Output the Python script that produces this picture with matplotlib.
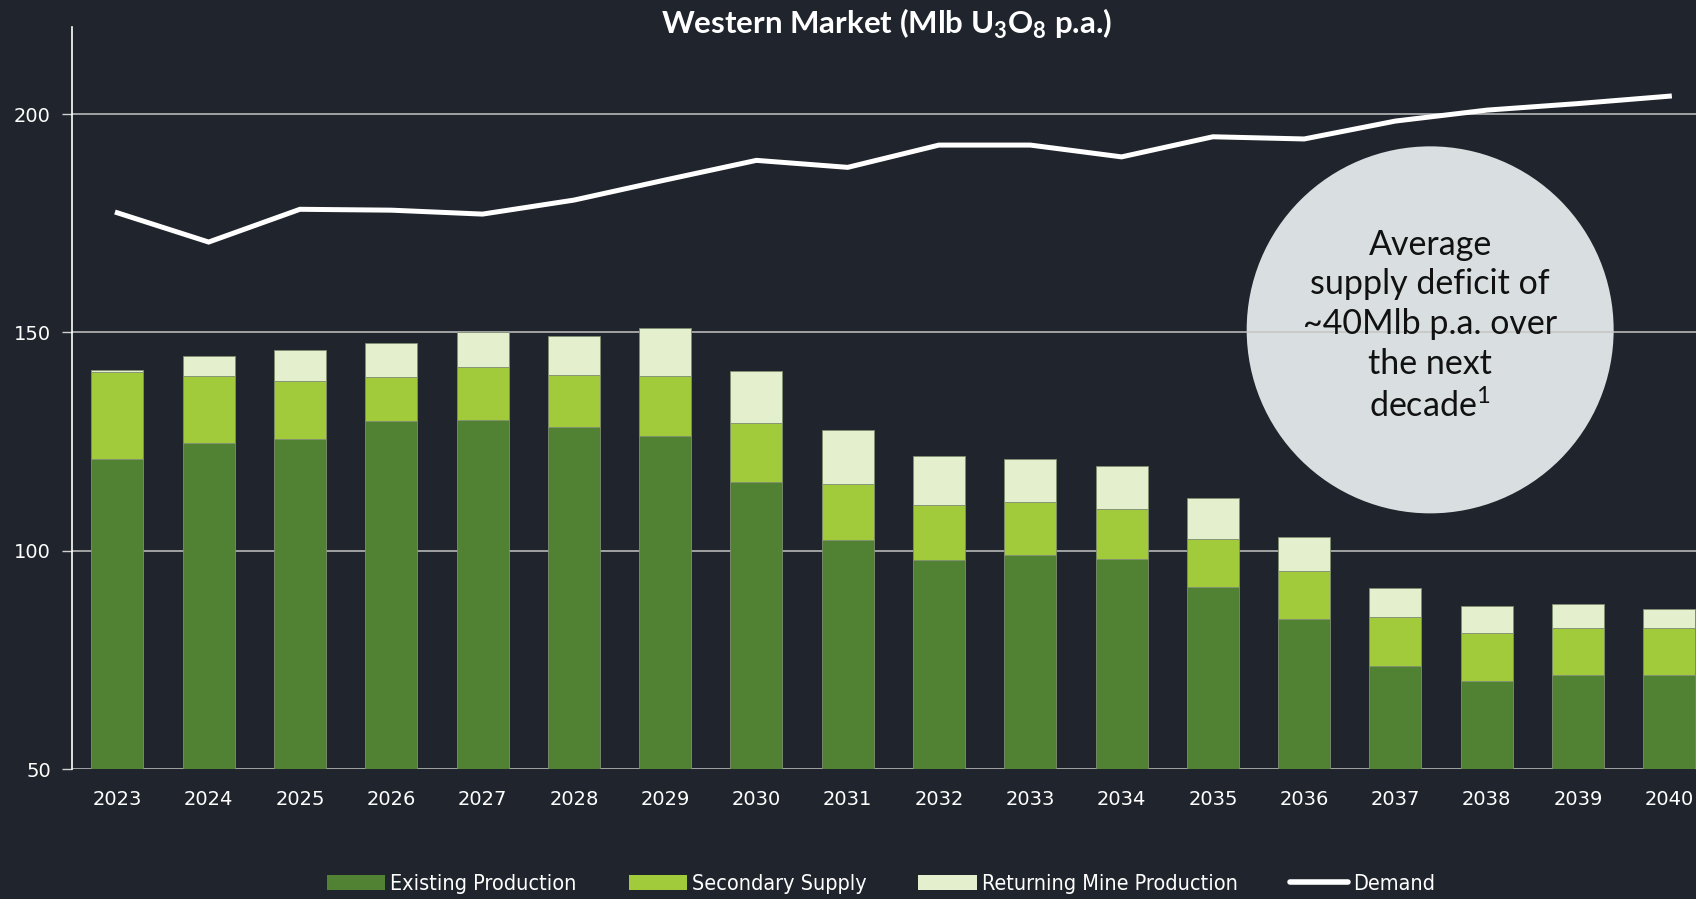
import matplotlib
matplotlib.use('Agg')
import matplotlib.pyplot as plt
from matplotlib.patches import Ellipse, Patch
from matplotlib.lines import Line2D

plt.rcParams['mathtext.fontset'] = 'custom'
plt.rcParams['mathtext.bf'] = 'Lato:bold'
plt.rcParams['mathtext.rm'] = 'Lato'

# ===== Western market supply / demand (Mlb U3O8 p.a.) =====
years = ['2023', '2024', '2025', '2026', '2027', '2028', '2029', '2030', '2031',
         '2032', '2033', '2034', '2035', '2036', '2037', '2038', '2039', '2040']
existing = [121.0, 124.6, 125.6, 129.8, 129.9, 128.4, 126.3, 115.7, 102.4,
            97.9, 99.1, 98.2, 91.7, 84.4, 73.7, 70.2, 71.5, 71.5]
secondary = [20.0, 15.5, 13.4, 10.0, 12.2, 11.8, 13.8, 13.5, 12.9,
             12.5, 12.0, 11.5, 11.0, 10.9, 11.1, 10.9, 10.9, 10.9]
returning = [0.3, 4.6, 7.0, 7.8, 8.1, 9.0, 11.0, 12.0, 12.3,
             11.4, 10.0, 9.8, 9.5, 7.8, 6.7, 6.2, 5.5, 4.3]
demand = [177.4, 170.7, 178.2, 178.0, 177.1, 180.3, 184.9, 189.4, 187.8,
          192.9, 192.9, 190.2, 194.8, 194.3, 198.4, 200.9, 202.4, 204.1]

bg = '#20242c'
c_exist = '#518133'
c_sec = '#a2cb3c'
c_ret = '#e4efcd'
edge = '#7f8f70'

fig = plt.figure(figsize=(16.96, 8.99), dpi=100, facecolor=bg)
ax = fig.add_axes([71.7 / 1696, 129.7 / 899, 1643.3 / 1696, 742.6 / 899])
ax.set_facecolor(bg)

x = list(range(len(years)))
base = [50] * len(years)
h_exist = [e - 50 for e in existing]
top_sec = [e + s for e, s in zip(existing, secondary)]
w = 0.57
ax.bar(x, h_exist, bottom=base, width=w, color=c_exist, edgecolor=edge, linewidth=0.6, zorder=2)
ax.bar(x, secondary, bottom=existing, width=w, color=c_sec, edgecolor=edge, linewidth=0.6, zorder=2)
ax.bar(x, returning, bottom=top_sec, width=w, color=c_ret, edgecolor=edge, linewidth=0.6, zorder=2)
ax.plot(x, demand, color='white', linewidth=3.6, solid_joinstyle='miter', zorder=3)

ax.set_xlim(-0.5, 17.5)
ax.set_ylim(50, 220)
ax.set_yticks([50, 100, 150, 200])
ax.set_xticks(x)
ax.set_xticklabels(years)
ax.set_axisbelow(True)
ax.grid(axis='y', color='#c4c4c4', linewidth=1.1, zorder=0.5)
ax.tick_params(axis='y', colors='#d0d0d0', labelcolor='white', labelsize=14, length=7, width=1, pad=8)
ax.tick_params(axis='x', length=0, labelcolor='white', labelsize=14, pad=15)
for s in ['top', 'right', 'bottom']:
    ax.spines[s].set_visible(False)
ax.spines['left'].set_color('white')
ax.spines['left'].set_linewidth(1.2)

# supply deficit bubble
circ = Ellipse((14.38, 150.6), width=2 * 183.5 / 91.3, height=2 * 183.5 / 4.368,
               facecolor='#d9dfe1', edgecolor='none', zorder=0.3)
ax.add_patch(circ)
ax.text(14.38, 151.5, 'Average\nsupply deficit of\n~40Mlb p.a. over\nthe next\ndecade$^1$',
        ha='center', va='center', fontsize=24.5, family='Lato', color='#111111',
        linespacing=1.3, zorder=4)

fig.text(886 / 1696, 1 - 24 / 899, r'Western Market (Mlb U$_\mathbf{3}$O$_\mathbf{8}$ p.a.)',
         ha='center', va='center', fontsize=22.5, fontweight='bold', family='Lato', color='white')

handles = [Patch(facecolor=c_exist), Patch(facecolor=c_sec), Patch(facecolor=c_ret),
           Line2D([0], [0], color='white', linewidth=4, solid_capstyle='round')]
labels = ['Existing Production', 'Secondary Supply', 'Returning Mine Production', 'Demand']
leg = fig.legend(handles, labels, loc='center', bbox_to_anchor=(881 / 1696, 15 / 899), ncol=4,
                 frameon=False, handlelength=2.7, handletextpad=0.25, columnspacing=2.4,
                 prop={'family': 'DejaVu Sans', 'stretch': 'condensed', 'size': 15.5})
for t in leg.get_texts():
    t.set_color('white')

fig.savefig('out.png', dpi=100, facecolor=bg)
